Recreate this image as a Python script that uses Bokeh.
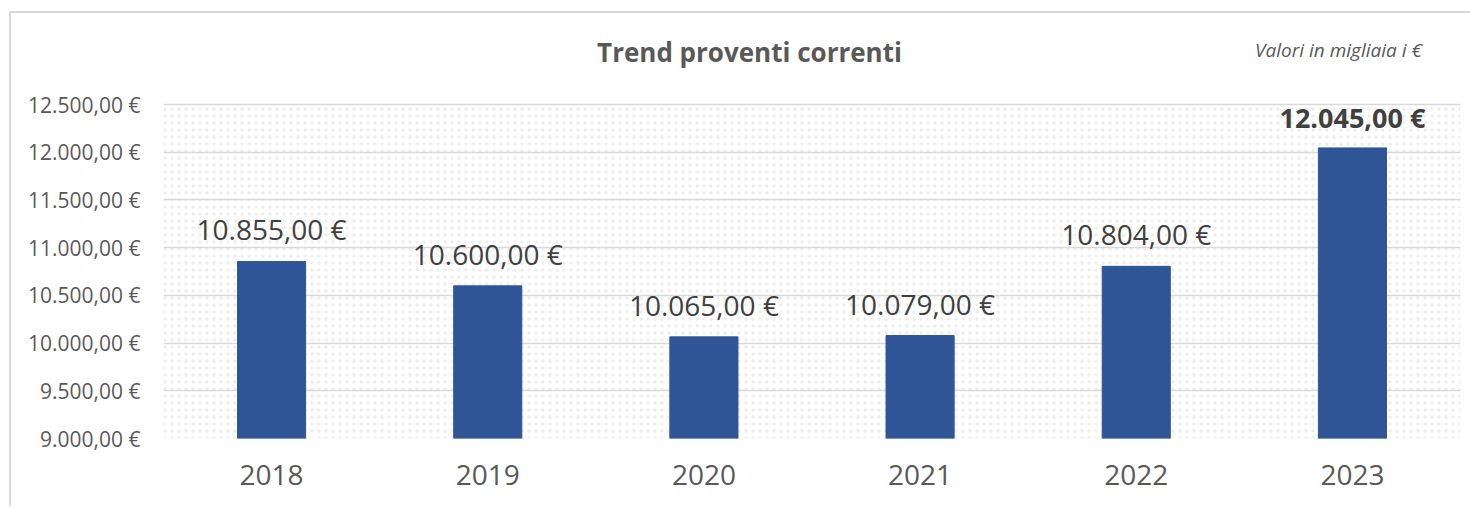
from bokeh.plotting import figure
from bokeh.models import (ColumnDataSource, FixedTicker, LabelSet, Label, BoxAnnotation)
from bokeh.core.properties import value
from bokeh.embed import file_html
from bokeh.resources import INLINE

# ---- data ----
years = ["2018", "2019", "2020", "2021", "2022", "2023"]
values = [10855, 10600, 10065, 10079, 10804, 12045]
value_labels = ["10.855,00 €", "10.600,00 €", "10.065,00 €", "10.079,00 €", "10.804,00 €", "12.045,00 €"]
y_ticks = [9000, 9500, 10000, 10500, 11000, 11500, 12000, 12500]
y_tick_labels = ["9.000,00 €", "9.500,00 €", "10.000,00 €", "10.500,00 €",
                 "11.000,00 €", "11.500,00 €", "12.000,00 €", "12.500,00 €"]
title_text = "Trend proventi correnti"
note_text = "Valori in migliaia i €"

Y_MIN, Y_MAX = 9000, 12500
FONT = "Open Sans"
BAR_COLOR = "#2F5597"
BORDER = "#d9d9d9"

# layout (page pixels)
W, H = 1470, 506
FL, FR, FB = 163, 1460, 438      # frame left/right/bottom
GRID_TOP = 104                   # pixel row of the top gridline (Y_MAX)
FT = 14                          # frame top (frame extended to hold the titles)
PX_PER_UNIT = (FB - GRID_TOP) / (Y_MAX - Y_MIN)
Y_VIEW_END = Y_MIN + (FB - FT) / PX_PER_UNIT

p = figure(x_range=years, y_range=(Y_MIN, Y_VIEW_END), width=W, height=H,
           output_backend="svg", toolbar_location=None,
           min_border_left=FL, min_border_right=W - FR, min_border_top=FT, min_border_bottom=H - FB)
p.outline_line_color = None
p.background_fill_color = "white"
p.border_fill_color = None
# outer chart border (left and top edges; right/bottom run past the picture)
p.styles = {
    "background": (f"linear-gradient({BORDER}, {BORDER}) 9px 11px / 2px 3000px no-repeat, "
                   f"linear-gradient({BORDER}, {BORDER}) 9px 11px / 3000px 2px no-repeat, white"),
}

def px_x(px):
    return (px - FL) / ((FR - FL) / len(years))

def px_y(py):
    return Y_MIN + (FB - py) / PX_PER_UNIT

# dotted plot-area background (only the value area)
p.add_layout(BoxAnnotation(top=Y_MAX, fill_alpha=0, line_color=None, hatch_pattern="dot",
                           hatch_color="#eeeeee", hatch_scale=7, hatch_weight=1.3, level="image"))

src = ColumnDataSource(dict(x=years, top=values))
plain = ColumnDataSource(dict(x=years[:5], top=values[:5], label=value_labels[:5]))
boldsrc = ColumnDataSource(dict(x=years[5:], top=values[5:], label=value_labels[5:]))

p.vbar(x="x", top="top", bottom=Y_MIN, width=0.315, source=src,
       fill_color=BAR_COLOR, line_color=BAR_COLOR)

p.add_layout(LabelSet(x="x", y="top", text="label", source=plain, y_offset=21,
                      text_align="center", text_baseline="alphabetic",
                      text_font=value(FONT), text_font_size=value("28px"), text_color="#404040"))
p.add_layout(LabelSet(x="x", y="top", text="label", source=boldsrc, y_offset=20,
                      text_align="center", text_baseline="alphabetic",
                      text_font=value(FONT), text_font_size=value("27px"),
                      text_font_style=value("bold"), text_color="#404040"))

# axes
p.yaxis.ticker = FixedTicker(ticks=y_ticks)
p.yaxis.major_label_overrides = {t: l for t, l in zip(y_ticks, y_tick_labels)}
p.yaxis.axis_line_color = None
p.yaxis.major_tick_line_color = None
p.yaxis.minor_tick_line_color = None
p.yaxis.major_label_standoff = 17
p.yaxis.major_label_text_font = FONT
p.yaxis.major_label_text_font_size = "21px"
p.yaxis.major_label_text_color = "#595959"

p.xaxis.axis_line_color = None
p.xaxis.major_tick_line_color = None
p.xaxis.major_label_standoff = 20
p.xaxis.major_label_text_font = FONT
p.xaxis.major_label_text_font_size = "28px"
p.xaxis.major_label_text_color = "#595959"

p.xgrid.grid_line_color = None
p.ygrid.ticker = FixedTicker(ticks=y_ticks)
p.ygrid.grid_line_color = BORDER
p.ygrid.grid_line_width = 1.6

# titles
p.add_layout(Label(x=px_x(749), y=px_y(51), text=title_text,
                   text_align="center", text_baseline="alphabetic", text_font=FONT,
                   text_font_size="26px", text_font_style="bold", text_color="#595959"))
p.add_layout(Label(x=px_x(1338), y=px_y(49), text=note_text,
                   text_align="center", text_baseline="alphabetic", text_font=FONT,
                   text_font_size="19px", text_font_style="italic", text_color="#595959"))

open("out.html", "w").write(file_html(p, INLINE))
